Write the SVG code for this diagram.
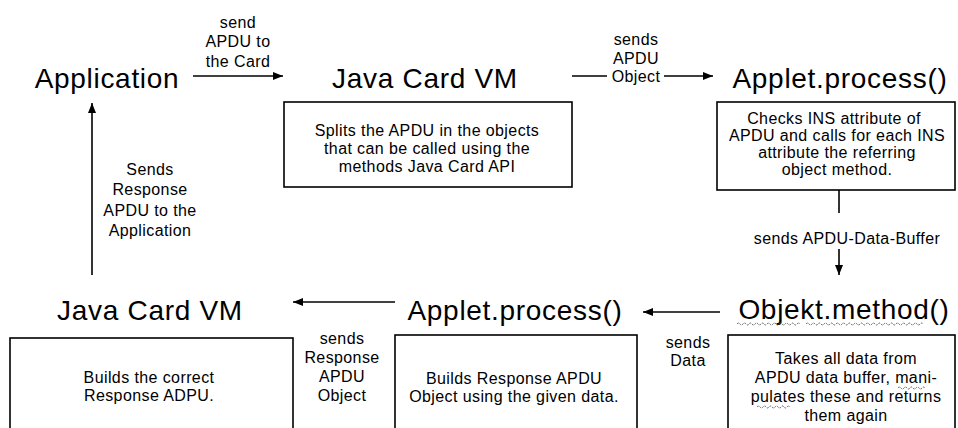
<svg xmlns="http://www.w3.org/2000/svg" width="958" height="428" viewBox="0 0 958 428">
<style>
  text { font-family: "Liberation Sans", Arial, sans-serif; fill: #000; text-anchor: middle; }
  .title { font-size: 28px; letter-spacing: 0.7px; }
  .body { font-size: 16px; letter-spacing: 0.4px; }
  .label { font-size: 16px; letter-spacing: 0.4px; }
  .box { fill: #fff; stroke: #000; stroke-width: 1.6; }
  .conn { fill: none; stroke: #000; stroke-width: 1.6; }
  .squig { fill: none; stroke: #555; stroke-width: 0.9; stroke-dasharray: 2 1; }
</style>
<defs>
  <marker id="arrow" markerUnits="userSpaceOnUse" markerWidth="10" markerHeight="8" refX="10" refY="4" orient="auto">
    <path d="M0,0 L10,4 L0,8 Z" fill="#000"/>
  </marker>
</defs>
<rect width="958" height="428" fill="#fff"/>

<g id="n-application">
  <text class="title" x="107" y="88">Application</text>
</g>

<g id="n-jcvm-top">
  <text class="title" x="425" y="88">Java Card VM</text>
  <rect class="box" x="284" y="102" width="288" height="85"/>
  <text class="body" x="427" y="136">Splits the APDU in the objects</text>
  <text class="body" x="427" y="154">that can be called using the</text>
  <text class="body" x="427" y="172">methods Java Card API</text>
</g>

<g id="n-applet-top">
  <text class="title" x="840" y="88">Applet.process()</text>
  <rect class="box" x="717" y="102" width="238" height="88"/>
  <text class="body" x="834" y="124">Checks INS attribute of</text>
  <text class="body" x="837" y="141">APDU and calls for each INS</text>
  <text class="body" x="837" y="158">attribute the referring</text>
  <text class="body" x="837" y="175">object method.</text>
</g>

<g id="n-objekt">
  <text class="title" x="844" y="319">Objekt.method()</text>
  <path class="squig" d="M737 324 q1.5 -2 3 0 t3 0 t3 0 t3 0 t3 0 t3 0 t3 0 t3 0 t3 0 t3 0 t3 0 t3 0 t3 0 t3 0 t3 0 t3 0 t3 0 t3 0 t3 0 t3 0 t3 0"/>
  <path class="squig" d="M806 324 q1.5 -2 3 0 t3 0 t3 0 t3 0 t3 0 t3 0 t3 0 t3 0 t3 0 t3 0 t3 0 t3 0 t3 0 t3 0 t3 0 t3 0 t3 0 t3 0 t3 0 t3 0 t3 0 t3 0 t3 0 t3 0 t3 0 t3 0 t3 0 t3 0 t3 0 t3 0 t3 0 t3 0 t3 0 t3 0 t3 0 t3 0 t3 0 t3 0 t3 0"/>
  <rect class="box" x="728" y="335" width="227" height="110"/>
  <text class="body" x="846" y="364">Takes all data from</text>
  <text class="body" x="846" y="383">APDU data buffer, mani-</text>
  <text class="body" x="846" y="402">pulates these and returns</text>
  <text class="body" x="846" y="421">them again</text>
  <path class="squig" d="M898 388 q1.5 -2 3 0 t3 0 t3 0 t3 0 t3 0 t3 0 t3 0 t3 0 t3 0"/>
  <path class="squig" d="M757 407 q1.5 -2 3 0 t3 0 t3 0 t3 0 t3 0 t3 0 t3 0 t3 0 t3 0 t3 0 t3 0"/>
</g>

<g id="n-applet-bottom">
  <text class="title" x="515" y="320">Applet.process()</text>
  <rect class="box" x="395" y="335" width="242" height="110"/>
  <text class="body" x="514" y="384">Builds Response APDU</text>
  <text class="body" x="514" y="402">Object using the given data.</text>
</g>

<g id="n-jcvm-bottom">
  <text class="title" x="150" y="320">Java Card VM</text>
  <rect class="box" x="10" y="338" width="283" height="110"/>
  <text class="body" x="149" y="383">Builds the correct</text>
  <text class="body" x="149" y="401">Response ADPU.</text>
</g>

<g id="connectors">
  <path class="conn" d="M193 76 H283" marker-end="url(#arrow)"/>
  <text class="label" x="238" y="28">send</text>
  <text class="label" x="238" y="47">APDU to</text>
  <text class="label" x="238" y="67">the Card</text>

  <path class="conn" d="M572 76 H607 M664 76 H713" marker-end="url(#arrow)"/>
  <text class="label" x="636" y="45">sends</text>
  <text class="label" x="636" y="64">APDU</text>
  <text class="label" x="636" y="82">Object</text>

  <path class="conn" d="M839 190 V213"/>
  <text class="label" x="847" y="244">sends APDU-Data-Buffer</text>
  <path class="conn" d="M839 249 V275" marker-end="url(#arrow)"/>

  <path class="conn" d="M720 312 H643" marker-end="url(#arrow)"/>
  <text class="label" x="688" y="348">sends</text>
  <text class="label" x="688" y="366">Data</text>

  <path class="conn" d="M395 302 H293" marker-end="url(#arrow)"/>
  <text class="label" x="342" y="344">sends</text>
  <text class="label" x="342" y="363">Response</text>
  <text class="label" x="342" y="382">APDU</text>
  <text class="label" x="342" y="401">Object</text>

  <path class="conn" d="M92 275 V103" marker-end="url(#arrow)"/>
  <text class="label" x="150" y="175">Sends</text>
  <text class="label" x="150" y="195">Response</text>
  <text class="label" x="150" y="216">APDU to the</text>
  <text class="label" x="150" y="236">Application</text>
</g>
</svg>
